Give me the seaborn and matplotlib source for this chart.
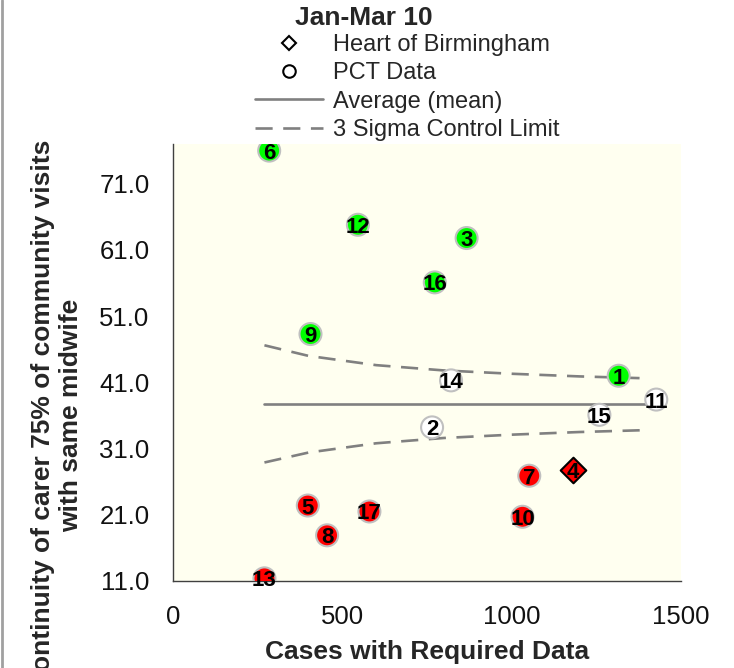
import matplotlib
matplotlib.use("Agg")
import matplotlib.pyplot as plt
from matplotlib.lines import Line2D
import seaborn as sns
import pandas as pd

# ---- data ----
labels = ["1", "2", "3", "5", "6", "7", "8", "9", "10", "11", "12", "13", "14", "15", "16", "17"]
cases = [1316, 765, 867, 398, 284, 1052, 455, 406, 1032, 1427, 546, 270, 821, 1259, 773, 580]
values = [42.0, 34.2, 62.8, 22.4, 76.0, 26.9, 17.9, 48.3, 20.7, 38.4, 64.8, 11.4, 41.3, 36.1, 56.1, 21.5]
status = ["above", "within", "above", "below", "above", "below", "below", "above", "below",
          "within", "above", "below", "within", "within", "above", "below"]

hob_label = ["4"]
hob_cases = [1182]
hob_values = [27.7]

mean_x = [270, 1405]
mean_y = [37.7, 37.7]

limit_x = [270, 400, 600, 800, 1000, 1200, 1405]
upper_y = [46.6, 45.0, 43.6, 42.8, 42.3, 41.9, 41.6]
lower_y = [28.9, 30.4, 31.8, 32.6, 33.1, 33.5, 33.8]

x_ticks = [0, 500, 1000, 1500]
y_ticks = [11.0, 21.0, 31.0, 41.0, 51.0, 61.0, 71.0]

# ---- styling ----
sns.set_style("white")
plt.rcParams["font.family"] = ["Liberation Sans", "DejaVu Sans"]

fig = plt.figure(figsize=(7.34, 6.68), dpi=100)
ax = fig.add_axes([173 / 734, 1 - 581 / 668, 508 / 734, 437 / 668])
ax.set_facecolor("#FFFFF0")

df = pd.DataFrame({"cases": cases, "value": values, "label": labels, "status": status})
palette = {"above": "#00FF00", "below": "#FF0000", "within": "#FFFFFF"}

line_col = "#808080"
sns.lineplot(x=mean_x, y=mean_y, ax=ax, color=line_col, lw=1.9, zorder=2)
sns.lineplot(x=limit_x, y=upper_y, ax=ax, color=line_col, lw=1.9, zorder=2,
             linestyle=(0, (6.5, 4)))
sns.lineplot(x=limit_x, y=lower_y, ax=ax, color=line_col, lw=1.9, zorder=2,
             linestyle=(0, (6.5, 4)))

sns.scatterplot(data=df, x="cases", y="value", hue="status", palette=palette, ax=ax,
                s=250, edgecolor="#C0C0C0", linewidth=1.5, legend=False, zorder=3)
hob = pd.DataFrame({"cases": hob_cases, "value": hob_values, "label": hob_label})
sns.scatterplot(data=hob, x="cases", y="value", ax=ax, marker="D", s=170,
                color="#FF0000", edgecolor="black", linewidth=1.5, legend=False, zorder=3)

narrow = ["Liberation Sans Narrow", "Liberation Sans", "DejaVu Sans"]
for xv, yv, lb in zip(cases + hob_cases, values + hob_values, labels + hob_label):
    ax.text(xv, yv, lb, ha="center", va="center_baseline", fontsize=16, fontweight="bold",
            family=narrow, fontstretch="condensed", color="black", zorder=4)

ax.set_xlim(0, 1500)
ax.set_ylim(11, 77)
ax.set_xticks(x_ticks)
ax.set_xticklabels([str(t) for t in x_ticks])
ax.set_yticks(y_ticks)
ax.set_yticklabels([f"{t:.1f}" for t in y_ticks])

for side in ["top", "right"]:
    ax.spines[side].set_visible(False)
for side in ["left", "bottom"]:
    ax.spines[side].set_color("#404040")
    ax.spines[side].set_linewidth(1.0)

ax.tick_params(axis="both", direction="out", length=6, width=1.0, color="#404040",
               labelsize=18.5, labelcolor="#111111")
ax.tick_params(axis="x", pad=11)
ax.tick_params(axis="y", pad=11)

ax.set_xlabel("Cases with Required Data", fontsize=19, fontweight="bold")
ax.xaxis.set_label_coords(0.5, -0.1625)
ax.xaxis.label.set_va("center")

ax.set_ylabel("Continuity of carer 75% of community visits\nwith same midwife",
              fontsize=19, fontweight="bold", linespacing=1.2)
ax.yaxis.set_label_coords(-0.228, 0.38)
ax.yaxis.label.set_va("center")

# legend
handles = [
    Line2D([], [], marker="D", color="none", markerfacecolor="white", markeredgecolor="black",
           markersize=7.5, markeredgewidth=1.5),
    Line2D([], [], marker="o", color="none", markerfacecolor="white", markeredgecolor="black",
           markersize=9, markeredgewidth=1.5),
    Line2D([], [], color=line_col, lw=1.9),
    Line2D([], [], color=line_col, lw=1.9, linestyle=(0, (6.5, 4))),
]
leg_labels = ["Heart of Birmingham", "PCT Data", "Average (mean)", "3 Sigma Control Limit"]
fig.legend(handles, leg_labels, loc="upper left", bbox_to_anchor=(255 / 734, 1 - 34 / 668),
           frameon=False, fontsize=17, handlelength=2.9, handletextpad=0.4,
           labelspacing=0.27, borderpad=0, borderaxespad=0)
fig.text(295 / 734, 1 - 18 / 668, "Jan-Mar 10", fontsize=19, fontweight="bold",
         ha="left", va="center")

fig.add_artist(Line2D([2 / 734, 2 / 734], [0, 1], transform=fig.transFigure,
                      color="#A0A0A0", lw=2))

fig.savefig("out.png", dpi=100)
